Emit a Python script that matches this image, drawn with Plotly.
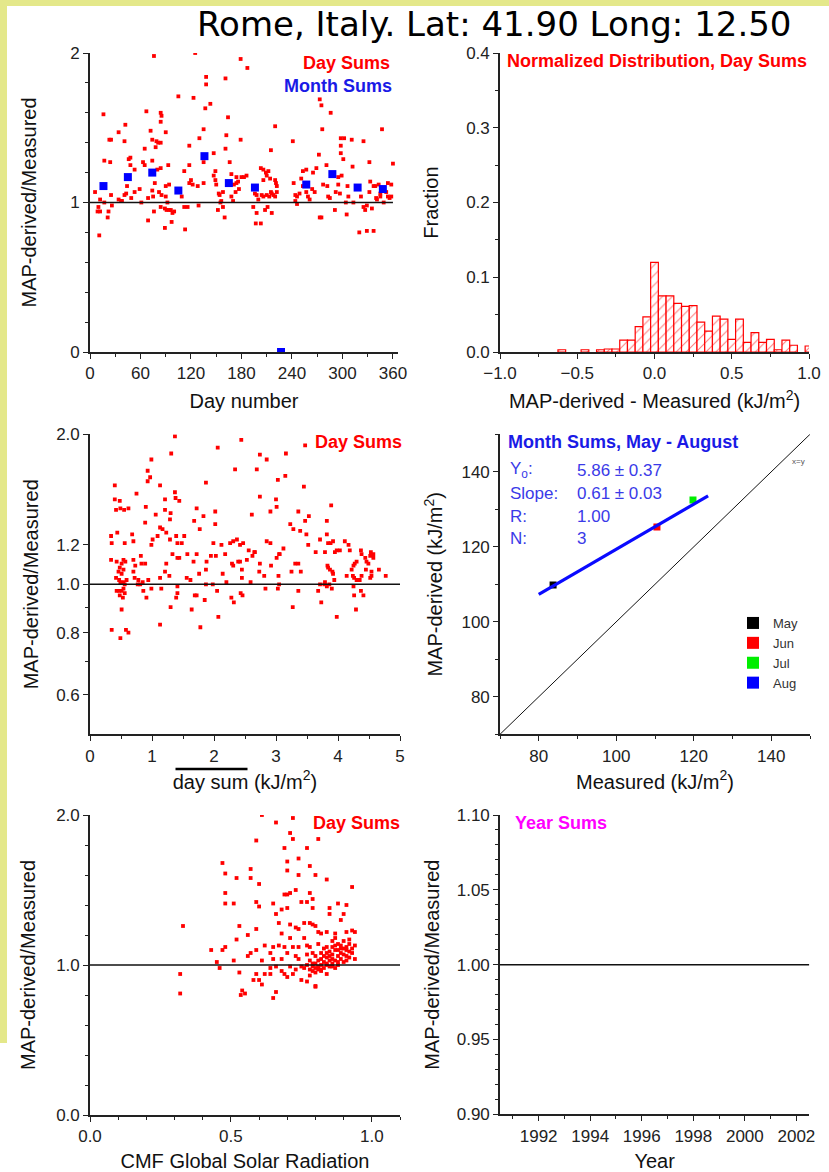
import math
import plotly.graph_objects as go

# ---------------- DATA ----------------
# Panel 1: day sums ratio vs day number
p1_day = [76,125,179,187,138,138,161,105,123,16,
          137,143,164,67,84,85,84,42,34,23,
          25,41,72,90,74,79,81,84,65,78,
          118,130,135,162,161,179,220,215,241,273,
          275,286,276,272,298,302,298,311,325,347,
          360,298,301,17,24,48,46,48,53,63,
          65,80,84,74,93,112,118,135,147,149,
          166,168,174,183,186,203,206,209,212,210,
          214,220,221,206,253,257,265,269,281,295,
          299,312,332,333,339,343,354,358,
          6,12,17,10,9,12,22,21,26,25,
          34,37,38,43,41,44,49,53,59,61,
          69,69,74,75,76,77,82,85,84,90,
          90,94,92,89,91,94,96,98,100,97,
          89,107,109,112,116,113,118,120,122,128,
          129,135,149,147,150,153,154,155,156,152,
          158,160,158,164,168,170,171,174,176,180,
          173,177,194,196,198,200,194,198,197,204,
          206,210,213,215,216,218,216,211,208,220,
          222,222,242,244,246,244,246,249,251,253,
          257,259,261,264,267,273,275,277,282,283,
          285,291,292,295,297,306,304,307,313,322,
          325,327,329,332,335,337,340,341,345,349,
          352,354,356,358,345,320,329,337,11,203,
          305]
p1_ratio = [1.98,2.00,1.96,1.90,1.84,1.79,1.83,1.71,1.70,1.59,
            1.63,1.66,1.57,1.61,1.60,1.58,1.54,1.52,1.47,1.42,
            1.42,1.41,1.48,1.47,1.42,1.41,1.40,1.40,1.36,1.37,
            1.38,1.43,1.49,1.45,1.36,1.42,1.51,1.35,1.41,1.69,
            1.65,1.60,1.49,1.32,1.43,1.43,1.38,1.42,1.41,1.49,
            1.26,1.33,1.29,1.28,1.27,1.30,1.29,1.25,1.22,1.27,
            1.25,1.22,1.23,1.28,1.25,1.21,1.25,1.27,1.33,1.21,
            1.27,1.19,1.17,1.17,1.18,1.23,1.22,1.20,1.21,1.18,
            1.16,1.15,1.13,1.15,1.21,1.22,1.20,1.23,1.25,1.17,
            1.18,1.24,1.27,1.14,1.11,1.12,1.13,1.12,
            1.07,1.02,1.00,0.97,0.94,0.94,0.94,0.90,0.98,1.05,
            1.02,1.01,1.01,1.06,1.05,1.11,1.03,1.07,1.09,1.00,
            1.03,0.88,1.08,1.04,0.94,1.13,1.07,1.05,0.97,1.11,
            1.04,1.12,1.00,0.96,0.95,0.95,0.95,0.93,0.94,0.87,
            0.83,1.07,1.04,0.97,0.97,0.82,1.13,1.15,1.12,1.11,
            0.98,1.13,1.15,1.18,1.12,1.06,1.05,1.00,1.01,0.95,
            0.97,0.90,1.07,1.13,1.04,1.01,1.12,1.13,1.14,1.17,
            1.07,1.09,1.11,1.06,1.05,1.02,0.97,0.93,0.86,1.05,
            1.04,1.05,1.04,1.07,1.06,1.05,0.93,0.97,0.95,1.04,
            1.07,1.11,1.13,1.05,1.04,1.01,0.99,1.06,1.16,1.11,
            1.07,1.04,1.02,1.09,1.07,0.90,0.90,1.12,1.11,1.04,
            1.03,0.95,1.07,1.12,1.06,1.11,1.00,1.04,1.00,1.04,
            0.97,0.95,0.98,1.07,0.96,1.11,1.03,1.02,1.04,1.00,
            1.07,1.04,1.03,1.04,1.06,0.80,0.81,0.81,0.78,0.86,
            0.92]
# Panel 1: month sums
p1m_day = [16,45,74,105,136,165,196,227,257,288,318,348]
p1m_ratio = [1.11,1.17,1.20,1.08,1.31,1.13,1.10,0.00,1.12,1.19,1.10,1.09]

# Panel 2: normalized distribution
hist_center = [-0.60,-0.45,-0.35,-0.30,-0.25,-0.20,-0.15,-0.10,-0.05,0.00,
               0.05,0.10,0.15,0.20,0.25,0.30,0.35,0.40,0.45,0.50,
               0.55,0.60,0.65,0.70,0.75,0.80,0.85,0.90,1.00]
hist_frac = [0.003,0.003,0.003,0.004,0.004,0.016,0.016,0.034,0.047,0.120,
             0.075,0.075,0.065,0.061,0.062,0.040,0.028,0.048,0.044,0.017,
             0.044,0.013,0.026,0.013,0.017,0.003,0.016,0.009,0.008]
hist_bin_width = 0.05

# Panel 3: ratio vs mean day sum
p3_daysum = [1.37,2.44,2.06,1.31,2.74,3.16,2.85,0.99,2.34,2.69,
             0.93,0.97,0.93,3.15,3.03,0.40,1.13,1.87,3.45,0.75,
             1.37,2.74,0.40,0.48,1.21,1.44,1.38,3.00,0.42,0.49,
             0.55,0.62,0.90,1.72,2.02,1.30,1.21,1.06,1.83,2.61,
             2.91,3.01,3.36,3.89,0.89,1.29,2.02,1.68,3.23,3.53,
             3.47,3.82,1.13,1.17,1.23,0.44,0.68,0.34,1.09,1.39,
             1.52,1.77,0.35,0.56,0.70,1.01,0.99,1.29,1.41,1.48,
             1.99,2.12,2.26,2.31,2.37,2.42,2.47,2.56,2.65,2.85,
             2.91,3.12,3.05,3.28,3.39,3.49,3.52,3.64,3.71,3.79,
             3.82,3.84,3.88,3.92,3.95,3.98,4.03,4.11,4.17,4.19,
             4.37,4.53,
             0.34,0.43,0.51,0.54,0.57,0.48,0.54,0.46,0.51,0.42,
             0.47,0.49,0.54,0.59,0.56,0.70,0.73,0.70,0.72,0.78,
             0.77,0.81,0.85,0.83,0.89,0.82,0.94,0.99,1.13,1.15,
             1.21,1.23,1.28,1.33,1.41,1.41,1.44,1.57,1.56,1.62,
             1.67,1.72,1.76,1.88,1.87,1.87,1.95,1.98,2.03,2.05,
             2.14,2.18,2.20,2.29,2.31,2.39,2.42,2.45,2.45,2.53,
             2.59,2.62,2.66,2.73,2.74,2.81,2.83,2.92,3.01,3.04,
             3.05,3.06,3.25,3.31,3.36,3.40,3.71,3.78,3.79,3.83,
             3.84,3.87,3.91,3.92,3.94,3.86,3.82,3.90,4.14,4.22,
             4.25,4.27,4.30,4.24,4.26,4.30,4.35,4.38,4.44,4.38,
             4.46,4.49,4.52,4.57,4.45,4.54,4.52,4.54,4.66,4.77,
             4.57,
             0.43,0.47,0.51,0.54,0.48,0.53,0.51,0.56,0.86,0.91,
             1.30,1.39,1.41,1.64,1.69,1.72,1.85,2.07,2.28,2.32,
             2.43,2.46,3.03,3.27,3.36,3.68,3.73,3.98,4.25,4.26,
             4.29,4.37,4.41,
             0.35,0.49,0.58,0.62,1.13,1.78,
             3.47]
p3_ratio = [1.98,1.95,1.88,1.83,1.82,1.83,1.78,1.78,1.70,1.70,
            1.69,1.64,1.61,1.65,1.62,1.58,1.58,1.60,1.57,1.52,
            1.53,1.50,1.48,1.47,1.48,1.47,1.49,1.48,1.41,1.42,
            1.41,1.42,1.43,1.42,1.40,1.39,1.41,1.38,1.37,1.38,
            1.40,1.43,1.40,1.44,1.33,1.35,1.32,1.34,1.32,1.37,
            1.34,1.34,1.30,1.29,1.27,1.27,1.26,1.25,1.25,1.25,
            1.25,1.29,1.21,1.21,1.22,1.23,1.20,1.23,1.21,1.21,
            1.21,1.20,1.21,1.22,1.23,1.20,1.21,1.17,1.16,1.22,
            1.21,1.18,1.15,1.29,1.28,1.26,1.20,1.16,1.23,1.16,
            1.26,1.21,1.21,1.22,1.16,1.17,1.17,1.22,1.20,1.17,
            1.17,1.16,
            1.12,1.11,1.10,1.12,1.11,1.08,1.07,1.06,1.05,1.03,
            1.02,1.01,1.01,1.02,1.00,1.12,1.09,1.06,1.03,1.02,
            1.00,1.00,1.01,1.10,1.10,1.14,1.02,0.98,1.03,0.98,
            1.06,1.10,1.04,1.15,1.13,0.99,1.13,1.15,1.03,1.02,
            1.11,1.15,1.05,1.11,1.07,1.00,1.14,1.00,1.14,0.97,
            1.05,1.15,1.01,1.10,1.09,1.11,1.11,1.07,1.03,1.12,
            1.01,1.14,1.16,1.06,1.10,1.04,0.98,1.09,1.13,1.04,
            1.00,1.15,1.06,1.10,1.10,1.06,1.00,1.00,1.01,1.09,
            1.08,1.07,1.06,1.05,1.02,1.00,0.99,0.98,1.04,1.07,
            1.09,1.10,1.11,1.04,1.03,1.02,1.02,1.04,1.13,1.15,
            1.11,1.10,1.14,1.13,1.07,1.06,1.03,1.04,1.07,1.04,
            1.15,
            0.97,0.97,0.97,0.98,0.95,0.94,0.89,0.96,0.97,0.94,
            0.90,0.94,0.96,0.89,0.95,0.95,0.93,0.86,0.94,0.92,
            0.96,0.95,0.98,0.90,0.97,0.97,0.92,0.86,0.99,0.95,
            0.89,0.97,0.95,
            0.81,0.78,0.81,0.80,0.83,0.82,
            1.90]

# Panel 4: month sums May - August
month_names = ["May", "Jun", "Jul", "Aug"]
month_colors = ["#000000", "#ff0000", "#00ee00", "#0000ff"]
month_measured = [83.7, 110.5, 119.8, None]
month_derived = [109.8, 125.3, 132.5, None]
fit_x = [80.0, 123.7]
fit_y = [107.3, 133.6]
identity_xy = [70, 150]
fit_stats_labels = ["Y<sub>o</sub>:", "Slope:", "R:", "N:"]
fit_stats_values = ["5.86 \u00b1 0.37", "0.61 \u00b1 0.03", "1.00", "3"]

# Panel 5: ratio vs CMF
p5_cmf = [0.61,0.66,0.72,0.71,0.72,0.81,0.59,0.69,0.77,0.47,
          0.70,0.74,0.57,0.48,0.57,0.52,0.70,0.74,0.78,0.80,
          0.84,0.60,0.48,0.69,0.70,0.71,0.73,0.75,0.78,0.79,
          0.93,0.48,0.51,0.59,0.60,0.65,0.68,0.70,0.77,0.79,
          0.85,0.85,0.88,0.91,0.90,0.33,0.53,0.59,0.66,0.67,
          0.68,0.71,0.73,0.74,0.76,0.78,0.79,0.80,0.82,0.81,
          0.84,0.87,0.89,0.91,0.93,0.94,0.43,0.47,0.48,0.51,
          0.52,0.56,0.56,0.57,0.59,0.61,0.62,0.64,0.65,0.65,
          0.67,0.68,0.69,0.70,0.71,0.72,0.73,0.74,0.74,0.76,
          0.77,0.77,0.78,0.78,0.79,0.80,0.81,0.82,0.82,0.83,
          0.84,0.84,0.85,0.85,0.86,0.86,0.87,0.87,0.88,0.88,
          0.88,0.89,0.89,0.90,0.91,0.91,0.92,0.92,0.93,0.94,
          0.94,0.90,0.86,
          0.32,0.32,0.46,0.45,0.53,0.58,0.59,0.60,0.61,0.62,
          0.64,0.64,0.66,0.65,0.66,0.68,0.69,0.70,0.71,0.72,
          0.73,0.75,0.75,0.77,0.78,0.78,0.79,0.79,0.80,0.81,
          0.81,0.80,0.82,0.83,0.84,0.85,0.87,0.54,0.55,0.535,
          0.80,
          0.82,0.83,0.84,0.85,0.86,0.87,0.88,0.89,0.90,0.91,
          0.92,0.80,0.81,0.83,0.86,0.89,0.90,0.87,0.84,0.79,
          0.77,0.76,0.80,0.82,0.84,0.86,0.88,0.92,0.93,0.91]
p5_ratio = [2.00,1.95,1.98,1.88,1.84,1.84,1.83,1.78,1.78,1.68,
            1.69,1.71,1.64,1.61,1.58,1.58,1.63,1.60,1.66,1.60,
            1.57,1.54,1.48,1.47,1.47,1.48,1.50,1.42,1.48,1.44,
            1.52,1.41,1.41,1.42,1.39,1.41,1.37,1.38,1.42,1.38,
            1.38,1.34,1.41,1.40,1.34,1.26,1.26,1.24,1.34,1.28,
            1.21,1.27,1.25,1.24,1.28,1.28,1.27,1.26,1.21,1.22,
            1.22,1.21,1.30,1.22,1.23,1.22,1.10,1.10,1.12,1.03,
            1.17,1.20,1.06,1.08,1.10,1.03,1.13,1.08,1.12,1.04,
            1.13,1.04,1.12,1.08,1.18,1.12,1.06,1.12,1.04,1.18,
            1.07,1.13,1.12,1.03,1.08,1.06,1.14,1.08,1.04,1.11,
            1.08,1.01,1.09,1.06,1.16,1.12,1.03,1.18,1.10,1.06,
            1.14,1.08,1.11,1.16,1.06,1.12,1.09,1.14,1.08,1.13,
            1.04,1.02,1.01,
            0.94,0.81,0.98,1.02,0.95,0.90,0.94,0.90,0.87,0.94,
            0.94,0.98,0.82,0.78,0.99,0.96,0.94,0.92,0.99,0.94,
            0.97,0.90,0.99,0.89,0.93,0.97,0.99,0.96,0.98,0.97,
            0.99,0.86,0.96,0.98,0.94,0.99,0.98,0.83,0.81,0.80,
            0.855,
            1.00,1.02,1.05,1.03,1.07,1.10,1.02,1.04,1.07,1.10,
            1.05,1.01,1.03,1.06,1.04,1.13,1.11,1.13,1.12,1.01,
            1.00,0.98,0.95,0.97,1.00,0.99,1.00,1.17,1.11,1.03]

# Panel 6: year sums (no data)
year_ticks = [1992, 1994, 1996, 1998, 2000, 2002]

assert len(p1_day) == len(p1_ratio)
assert len(p3_daysum) == len(p3_ratio)
assert len(p5_cmf) == len(p5_ratio)
assert len(hist_center) == len(hist_frac)

# ---------------- LAYOUT HELPERS ----------------
W, H = 829, 1172
def fx(p):
    return p / W
def fy(p):
    return 1 - p / H

FONT = "Arial, Liberation Sans, sans-serif"
AXC = "#222222"
RED = "#ff0000"

def axis(dom, anchor, rng, title, standoff, minor, **kw):
    d = dict(domain=dom, anchor=anchor, range=rng, automargin=False,
             showline=True, linecolor=AXC, linewidth=1.6, mirror=False,
             ticks="outside", ticklen=5, tickwidth=1.4, tickcolor=AXC,
             showgrid=False, zeroline=False,
             tickfont=dict(family=FONT, size=17, color=AXC),
             title=dict(text=title, standoff=standoff,
                        font=dict(family=FONT, size=20, color="#111111")),
             minor=dict(ticks="outside", ticklen=3, tickwidth=1.2,
                        tickcolor=AXC, showgrid=False, **minor))
    d.update(kw)
    return d

P1 = ([90, 398], [53, 352])
P2 = ([500, 809], [53, 352])
P3 = ([90, 400], [434.3, 734.3])
P4 = ([500, 810], [434.3, 734.3])
P5 = ([90, 400], [815, 1115])
P6 = ([500, 809.3], [815, 1114.3])

def xd(p):
    return [fx(p[0][0]), fx(p[0][1])]
def yd(p):
    return [fy(p[1][1]), fy(p[1][0])]

fig = go.Figure()

# ---- Panel 1
fig.add_trace(go.Scatter(x=p1_day, y=p1_ratio, mode="markers", xaxis="x", yaxis="y",
                         marker=dict(symbol="square", size=3.8, color=RED, line=dict(width=0)),
                         showlegend=False, name="Day Sums"))
fig.add_trace(go.Scatter(x=[0, 360], y=[1, 1], mode="lines", xaxis="x", yaxis="y",
                         line=dict(color="#111111", width=1.5), showlegend=False, hoverinfo="skip"))
fig.add_trace(go.Scatter(x=p1m_day, y=p1m_ratio, mode="markers", xaxis="x", yaxis="y",
                         marker=dict(symbol="square", size=8, color="#0000ff", line=dict(width=0)),
                         showlegend=False, name="Month Sums"))

# ---- Panel 2
fig.add_trace(go.Bar(x=hist_center, y=hist_frac, width=hist_bin_width, xaxis="x2", yaxis="y2",
                     marker=dict(color="white", line=dict(color=RED, width=1.2),
                                 pattern=dict(shape="/", fgcolor=RED, bgcolor="white",
                                              size=7, solidity=0.15)),
                     showlegend=False, name="Normalized Distribution"))

# ---- Panel 3
fig.add_trace(go.Scatter(x=p3_daysum, y=p3_ratio, mode="markers", xaxis="x3", yaxis="y3",
                         marker=dict(symbol="square", size=3.8, color=RED, line=dict(width=0)),
                         showlegend=False, name="Day Sums"))
fig.add_trace(go.Scatter(x=[0, 5], y=[1, 1], mode="lines", xaxis="x3", yaxis="y3",
                         line=dict(color="#111111", width=1.5), showlegend=False, hoverinfo="skip"))

# ---- Panel 4
fig.add_trace(go.Scatter(x=identity_xy, y=identity_xy, mode="lines", xaxis="x4", yaxis="y4",
                         line=dict(color="#111111", width=1), showlegend=False, hoverinfo="skip"))
for name, col, mx, my in zip(month_names, month_colors, month_measured, month_derived):
    fig.add_trace(go.Scatter(x=[mx], y=[my], mode="markers", xaxis="x4", yaxis="y4",
                             marker=dict(symbol="square", size=7, color=col, line=dict(width=0)),
                             name=name, showlegend=True))
fig.add_trace(go.Scatter(x=fit_x, y=fit_y, mode="lines", xaxis="x4", yaxis="y4",
                         line=dict(color="#0a0aff", width=3.2), showlegend=False, hoverinfo="skip"))

# ---- Panel 5
fig.add_trace(go.Scatter(x=p5_cmf, y=p5_ratio, mode="markers", xaxis="x5", yaxis="y5",
                         marker=dict(symbol="square", size=3.8, color=RED, line=dict(width=0)),
                         showlegend=False, name="Day Sums"))
fig.add_trace(go.Scatter(x=[0, 1.1], y=[1, 1], mode="lines", xaxis="x5", yaxis="y5",
                         line=dict(color="#111111", width=1.5), showlegend=False, hoverinfo="skip"))

# ---- Panel 6
fig.add_trace(go.Scatter(x=[1990.5, 2002.5], y=[1, 1], mode="lines", xaxis="x6", yaxis="y6",
                         line=dict(color="#111111", width=1.5), showlegend=False, hoverinfo="skip"))

layout = dict(
    width=W, height=H, margin=dict(l=0, r=0, t=0, b=0, pad=0),
    paper_bgcolor="white", plot_bgcolor="white",
    font=dict(family=FONT, color="#111111"),
    showlegend=True,
    legend=dict(x=fx(733), y=fy(608), xanchor="left", yanchor="top",
                font=dict(family=FONT, size=13, color="#333333"),
                bgcolor="rgba(0,0,0,0)", itemsizing="constant", tracegroupgap=0),
    xaxis=axis(xd(P1), "y", [0, 366], "Day number", 12, dict(dtick=30, tick0=0),
               tickvals=[0, 60, 120, 180, 240, 300, 360]),
    yaxis=axis(yd(P1), "x", [0, 2], "MAP-derived/Measured", 28, dict(dtick=0.2, tick0=0),
               dtick=1, tick0=0),
    xaxis2=axis(xd(P2), "y2", [-1, 1], "MAP-derived - Measured (kJ/m<sup>2</sup>)", 12,
                dict(dtick=0.25, tick0=-1), dtick=0.5, tick0=-1, tickformat=".1f"),
    yaxis2=axis(yd(P2), "x2", [0, 0.4], "Fraction", 22, dict(dtick=0.05, tick0=0),
                dtick=0.1, tick0=0, tickformat=".1f"),
    xaxis3=axis(xd(P3), "y3", [0, 5], "day sum (kJ/m<sup>2</sup>)", 10,
                dict(dtick=0.5, tick0=0), dtick=1, tick0=0),
    yaxis3=axis(yd(P3), "x3", [math.log10(0.5), math.log10(2.0)], "MAP-derived/Measured", 12,
                dict(tickvals=[0.7, 0.9]), type="log",
                tickvals=[0.6, 0.8, 1.0, 1.2, 2.0], ticktext=["0.6", "0.8", "1.0", "1.2", "2.0"]),
    xaxis4=axis(xd(P4), "y4", [70, 150], "Measured (kJ/m<sup>2</sup>)", 10,
                dict(dtick=10, tick0=0), dtick=20, tick0=0),
    yaxis4=axis(yd(P4), "x4", [70, 150], "MAP-derived (kJ/m<sup>2</sup>)", 13,
                dict(dtick=10, tick0=0), dtick=20, tick0=0),
    xaxis5=axis(xd(P5), "y5", [0, 1.1], "CMF Global Solar Radiation", 12,
                dict(dtick=0.1, tick0=0), dtick=0.5, tick0=0, tickformat=".1f"),
    yaxis5=axis(yd(P5), "x5", [0, 2], "MAP-derived/Measured", 15,
                dict(dtick=0.2, tick0=0), dtick=1, tick0=0, tickformat=".1f"),
    xaxis6=axis(xd(P6), "y6", [1990.5, 2002.5], "Year", 12,
                dict(dtick=1, tick0=1991), tickvals=year_ticks),
    yaxis6=axis(yd(P6), "x6", [0.9, 1.1], "MAP-derived/Measured", 12,
                dict(dtick=0.01, tick0=0.9), dtick=0.05, tick0=0.9, tickformat=".2f"),
)
fig.update_layout(**layout)

def note(text, x, y, xanchor="left", size=18, color=RED, family=FONT):
    fig.add_annotation(text=text, x=fx(x), y=fy(y), xref="paper", yref="paper",
                       xanchor=xanchor, yanchor="middle", showarrow=False,
                       font=dict(family=family, size=size, color=color))

note("Rome, Italy. Lat: 41.90 Long: 12.50", 793, 24, "right", 34, "#000000",
     "DejaVu Sans, Verdana, sans-serif")
note("<b>Day Sums</b>", 392, 63, "right")
note("<b>Month Sums</b>", 394, 86, "right", color="#1a1ae6")
note("<b>Normalized Distribution, Day Sums</b>", 505, 61)
note("<b>Day Sums</b>", 404, 442, "right")
note("<b>Month Sums, May - August</b>", 506, 442, color="#1a1ae6")
stat_rows_y = [470, 494, 516, 538]
for lab, val, yy in zip(fit_stats_labels, fit_stats_values, stat_rows_y):
    note(lab, 508, yy, size=17, color="#3a3ae8")
    note(val, 575, yy, size=17, color="#3a3ae8")
note("x=y", 798, 461, "center", 8, "#555555")
note("<b>Day Sums</b>", 402, 823, "right")
note("<b>Year Sums</b>", 513, 823, color="#ff00ff")

# overline on "day sum"
fig.add_shape(type="line", xref="paper", yref="paper",
              x0=fx(175.5), x1=fx(247.5), y0=fy(769), y1=fy(769),
              line=dict(color="#000000", width=2.5))
# yellow frame strips
YEL = "#e4e88a"
fig.add_shape(type="rect", xref="paper", yref="paper", x0=0, x1=1, y0=fy(6), y1=1,
              fillcolor=YEL, line=dict(width=0), layer="below")
fig.add_shape(type="rect", xref="paper", yref="paper", x0=0, x1=fx(7), y0=fy(1043), y1=1,
              fillcolor=YEL, line=dict(width=0), layer="below")

fig.write_html("out.html",
               post_script="document.body.style.margin='0';document.body.style.overflow='hidden';")
